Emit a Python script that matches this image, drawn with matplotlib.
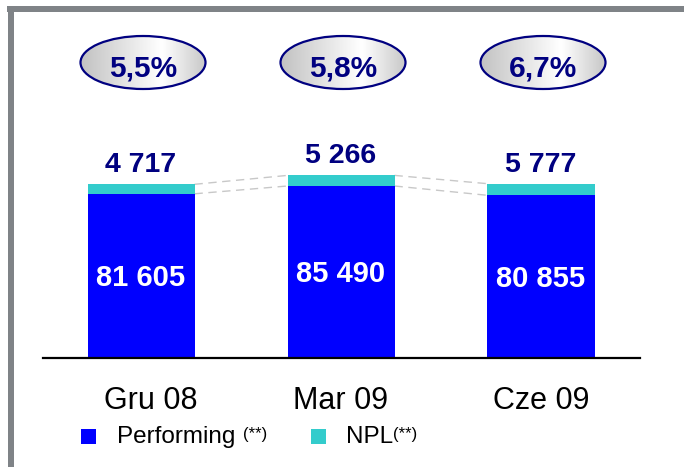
import matplotlib
matplotlib.use("Agg")
import matplotlib.pyplot as plt
from matplotlib.patches import Ellipse, Rectangle
from matplotlib.transforms import ScaledTranslation
import numpy as np

categories = ["Gru 08", "Mar 09", "Cze 09"]
performing = [81605, 85490, 80855]
npl = [4717, 5266, 5777]
npl_ratio = [5.5, 5.8, 6.7]

def fmt_int(v):
    return f"{v:,}".replace(",", " ")

def fmt_pct(v):
    return f"{v:.1f}".replace(".", ",") + "%"

BLUE = "#0000FF"
TEAL = "#33CCCC"
NAVY = "#000080"
FRAME = "#7f8387"

plt.rcParams['font.family'] = ['Liberation Sans', 'DejaVu Sans']

W, H = 684, 467
fig = plt.figure(figsize=(W / 100, H / 100), dpi=100)

# frame (top and left gray borders)
fig.patches.append(Rectangle((7 / W, (H - 12) / H), (W - 7) / W, 6 / H,
                             transform=fig.transFigure, color=FRAME, lw=0))
fig.patches.append(Rectangle((8 / W, 0), 6 / W, (H - 7) / H,
                             transform=fig.transFigure, color=FRAME, lw=0))

ax = fig.add_axes([43 / W, (H - 358) / H, 597 / W, 346 / H])
ax.set_facecolor("none")
x = np.arange(len(categories))
bw = 0.535

ax.bar(x, performing, bw, color=BLUE, edgecolor="none", zorder=3)
ax.bar(x, npl, bw, bottom=performing, color=TEAL, edgecolor="none", zorder=3)

totals = [p + n for p, n in zip(performing, npl)]

# dashed connectors
for i in range(len(x) - 1):
    for lev in (performing, totals):
        ax.plot([x[i] + bw / 2, x[i + 1] - bw / 2], [lev[i], lev[i + 1]],
                ls=(0, (6, 4)), color="#c8c8c8", lw=1.0, zorder=2)

# labels inside bars
for i in range(len(x)):
    ax.annotate(fmt_int(performing[i]), (x[i], performing[i] / 2),
                xytext=(0, -7.5), textcoords="offset points",
                ha="center", va="baseline", color="white",
                fontsize=21, fontweight="bold", zorder=5)
    ax.annotate(fmt_int(npl[i]), (x[i], totals[i]),
                xytext=(0, 8.6), textcoords="offset points",
                ha="center", va="baseline", color=NAVY,
                fontsize=20.5, fontweight="bold", zorder=5)

# ellipses with gradient
units_per_px = 497.0
ey = 295.5 * units_per_px
ew = 0.625
eh = 53 * units_per_px
grad_x = np.linspace(0, 1, 256)
vals = np.interp(grad_x, [0, 0.65, 1], [0.76, 1.0, 0.78])
grad = np.tile(vals, (10, 1))
for i in range(len(x)):
    cx = x[i] + 0.01
    ell = Ellipse((cx, ey), ew, eh, facecolor="none", edgecolor=NAVY,
                  lw=1.6, zorder=6)
    im = ax.imshow(grad, cmap="gray", vmin=0, vmax=1, aspect="auto",
                   extent=[cx - ew / 2, cx + ew / 2, ey - eh / 2, ey + eh / 2],
                   zorder=5, interpolation="bilinear")
    ax.add_patch(ell)
    im.set_clip_path(ell)
    ax.text(cx, 281.3 * units_per_px, fmt_pct(npl_ratio[i]), ha="center",
            va="baseline", color=NAVY, fontsize=21.5, fontweight="bold",
            zorder=7)

ax.set_xlim(-0.49, 2.495)
ax.set_ylim(0, 346 * units_per_px)
ax.set_xticks(x)
ax.set_xticklabels(categories, fontsize=22, color="black")
ax.tick_params(axis="x", length=0, pad=20)
first = ax.get_xticklabels()[0]
first.set_transform(first.get_transform() + ScaledTranslation(10 / 100, 0, fig.dpi_scale_trans))
ax.set_yticks([])
for s in ("left", "right", "top"):
    ax.spines[s].set_visible(False)
ax.spines["bottom"].set_linewidth(1.6)
ax.spines["bottom"].set_color("black")
ax.spines["bottom"].set_zorder(4)

# legend (manual)
def fx(px):
    return px / W

def fy(py):
    return (H - py) / H

fig.patches.append(Rectangle((fx(81), fy(444)), 15 / W, 15 / H,
                             transform=fig.transFigure, color=BLUE, lw=0))
fig.patches.append(Rectangle((fx(311), fy(444)), 15 / W, 15 / H,
                             transform=fig.transFigure, color=TEAL, lw=0))
fig.text(fx(117), fy(443), "Performing", fontsize=17.5, va="baseline", ha="left")
fig.text(fx(243), fy(439), "(**)", fontsize=12, va="baseline", ha="left")
fig.text(fx(346), fy(443), "NPL", fontsize=17.5, va="baseline", ha="left")
fig.text(fx(393), fy(439), "(**)", fontsize=12, va="baseline", ha="left")

fig.savefig("out.png", dpi=100, facecolor="white")
